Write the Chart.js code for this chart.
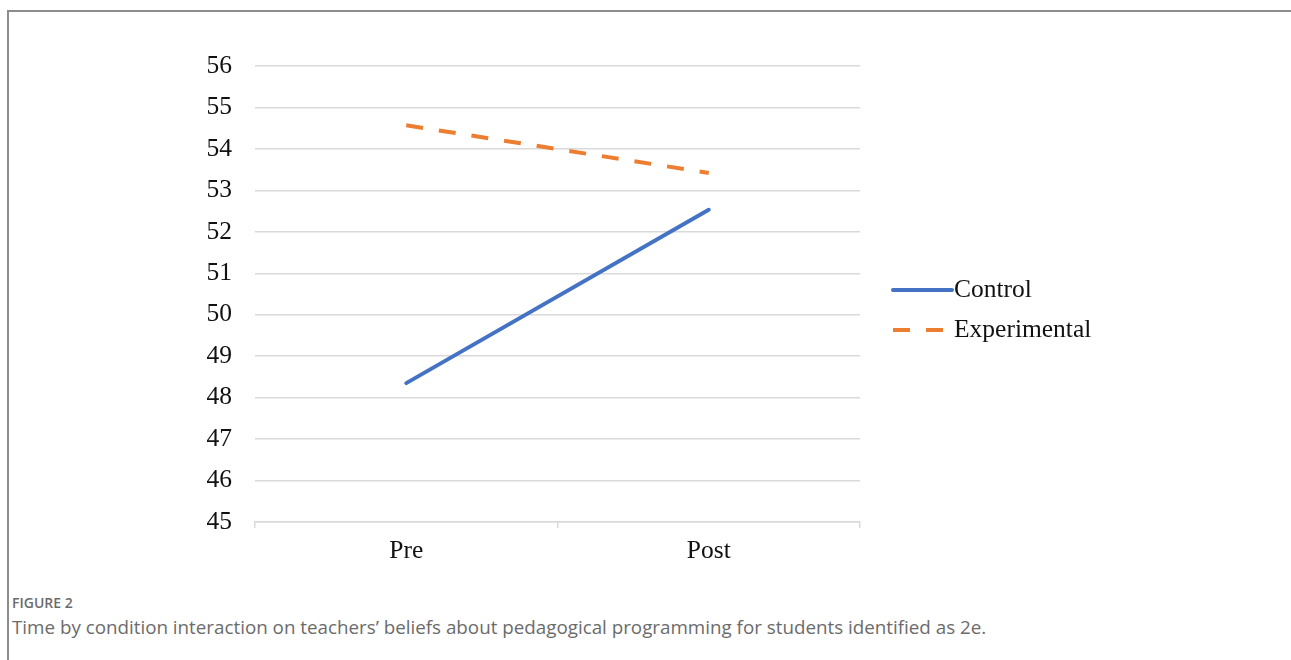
<!DOCTYPE html>
<html lang="en">
<head>
  <meta charset="UTF-8">
  <title>Figure 2</title>
  <script src="https://cdn.jsdelivr.net/npm/chart.js"></script>
  <style>
    html, body { margin: 0; padding: 0; background: #fff; overflow: hidden; }
    body { width: 1291px; height: 660px; position: relative; }
    .moldura {
      position: absolute; left: 7px; top: 10px;
      width: 1320px; height: 700px;
      border: 2px solid #8c8c8c; box-sizing: border-box;
    }
    .grafico { position: absolute; left: 0; top: 0; width: 1291px; height: 580px; }
    .legenda-fig {
      position: absolute; left: 12px; top: 593px;
      font-family: "Open Sans", sans-serif; font-size: 14px; font-weight: 600; color: #6b6b6b;
    }
    .texto-fig {
      position: absolute; left: 12px; top: 614px;
      font-family: "Open Sans", sans-serif; font-size: 18.8px; color: #6b6b6b;
    }
  </style>
</head>
<body>
  <div class="moldura"></div>
  <div class="grafico">
    <canvas id="graficoInteracao" width="1291" height="580"></canvas>
  </div>
  <div class="legenda-fig">FIGURE 2</div>
  <div class="texto-fig">Time by condition interaction on teachers’ beliefs about pedagogical programming for students identified as 2e.</div>

<script>
  // dados
  const momentos = ['Pre', 'Post'];
  const controle = [48.35, 52.53];
  const experimental = [54.57, 53.42];
  const eixoY = { min: 45, max: 56, passo: 1 };

  const familiaSerif = '"Liberation Serif", "Times New Roman", serif';
  const tamanhoFonte = 25.5;

  // legenda lateral desenhada a partir dos datasets
  const legendaLateral = {
    id: 'legendaLateral',
    afterDraw(chart) {
      const ctx = chart.ctx;
      const x0 = 893, y0 = 290, passoY = 40, comp = 59;
      chart.data.datasets.forEach((ds, i) => {
        const y = y0 + i * passoY;
        ctx.save();
        ctx.strokeStyle = ds.borderColor;
        ctx.lineWidth = ds.borderWidth;
        ctx.lineCap = ds.borderCapStyle || 'butt';
        ctx.setLineDash(ds.borderDash || []);
        ctx.beginPath();
        ctx.moveTo(x0, y);
        ctx.lineTo(x0 + comp, y);
        ctx.stroke();
        ctx.setLineDash([]);
        ctx.fillStyle = '#111';
        ctx.font = tamanhoFonte + 'px ' + familiaSerif;
        ctx.textBaseline = 'middle';
        ctx.textAlign = 'left';
        ctx.fillText(ds.label, x0 + comp + 2, y);
        ctx.restore();
      });
    }
  };

  const ctx = document.getElementById('graficoInteracao').getContext('2d');

  const grafico = new Chart(ctx, {
    type: 'line',
    data: {
      labels: momentos,
      datasets: [{
        label: 'Control',
        data: controle,
        borderColor: '#4472C4',
        borderWidth: 4,
        borderCapStyle: 'round',
        pointRadius: 0,
        fill: false
      }, {
        label: 'Experimental',
        data: experimental,
        borderColor: '#ED7D31',
        borderWidth: 4,
        borderDash: [17, 16],
        borderCapStyle: 'butt',
        pointRadius: 0,
        fill: false
      }]
    },
    options: {
      responsive: false,
      animation: false,
      layout: {
        padding: { left: 0, top: 66, right: 431, bottom: 0 }
      },
      plugins: {
        legend: { display: false },
        tooltip: { enabled: false }
      },
      scales: {
        x: {
          offset: true,
          afterFit: (escala) => { escala.height = 58; },
          grid: {
            offset: true,
            drawOnChartArea: false,
            drawTicks: true,
            tickLength: 6,
            color: '#d9d9d9',
            lineWidth: 1.5
          },
          border: { display: true, color: '#d9d9d9', width: 1.5 },
          ticks: {
            color: '#111',
            font: { family: familiaSerif, size: tamanhoFonte },
            padding: 8
          }
        },
        y: {
          min: eixoY.min,
          max: eixoY.max,
          afterFit: (escala) => { escala.width = 255; },
          grid: {
            drawTicks: false,
            color: '#d9d9d9',
            lineWidth: 1.5
          },
          border: { display: false },
          ticks: {
            stepSize: eixoY.passo,
            color: '#111',
            font: { family: familiaSerif, size: tamanhoFonte },
            padding: 23
          }
        }
      }
    },
    plugins: [legendaLateral]
  });
</script>
</body>
</html>
